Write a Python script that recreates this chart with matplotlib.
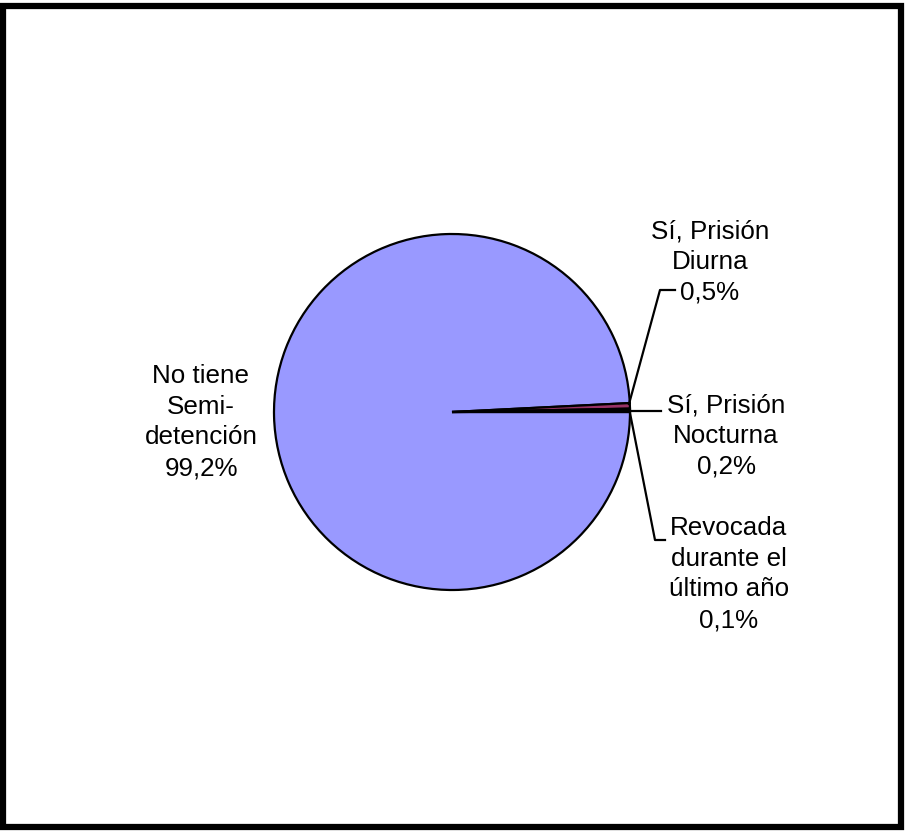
import matplotlib.pyplot as plt
from matplotlib.patches import Rectangle

plt.rcParams['font.family'] = ['Liberation Sans', 'DejaVu Sans']

# slice data (clockwise from 3 o'clock)
labels = ["No tiene\nSemi-\ndetención", "Sí, Prisión\nDiurna", "Sí, Prisión\nNocturna",
          "Revocada\ndurante el\núltimo año"]
values = [99.2, 0.5, 0.2, 0.1]
colors = ["#9999FF", "#993366", "#FF9933", "#333333"]

W, H = 906, 832
fig = plt.figure(figsize=(W / 100, H / 100), dpi=100)
ax = fig.add_axes([0, 0, 1, 1])

cx, cy, r = 452, H - 412, 178
ax.pie(values, colors=colors, startangle=0, counterclock=False,
       center=(cx, cy), radius=r, frame=True,
       wedgeprops=dict(edgecolor="black", linewidth=1.6))
ax.set_xlim(0, W)
ax.set_ylim(0, H)
ax.set_aspect("equal")
ax.axis("off")

fs = 18.7
ls = 1.36
texts = [f"{lab}\n{v:.1f}%".replace(".", ",") for lab, v in zip(labels, values)]

# label anchors (pixel coords, top-down y) and leader lines
ax.text(201, H - 422, texts[0], ha="center", va="center", fontsize=fs, linespacing=ls)
ax.text(710, H - 262, texts[1], ha="center", va="center", fontsize=fs, linespacing=ls)
ax.text(726, H - 436, texts[2], ha="center", va="center", fontsize=fs, linespacing=ls)
ax.text(729, H - 574, texts[3], ha="center", va="center", fontsize=fs, linespacing=ls)

lw = 1.6
ax.plot([629, 660, 675], [H - 404, H - 290, H - 290], color="black", lw=lw)
ax.plot([630, 661], [H - 411, H - 411], color="black", lw=lw)
ax.plot([630, 655, 665], [H - 413, H - 540, H - 540], color="black", lw=lw)

# outer frame
fig.patches.append(Rectangle((3 / W, 5 / H), 898 / W, 821 / H, transform=fig.transFigure,
                             fill=False, edgecolor="black", linewidth=4.5))

fig.savefig("out.png", dpi=100)
